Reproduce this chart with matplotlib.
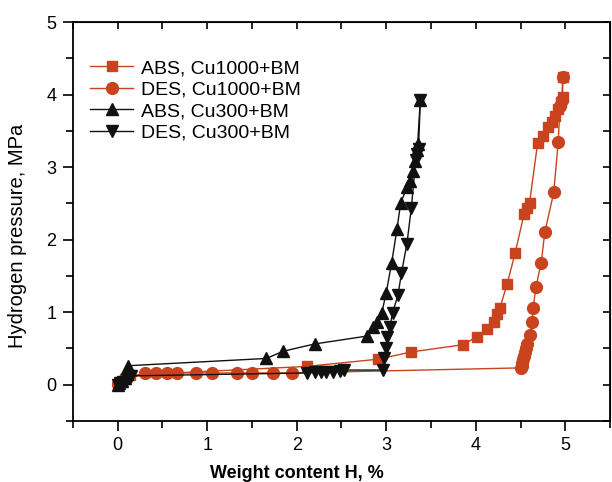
import numpy as np
import matplotlib.pyplot as plt
from matplotlib.ticker import MultipleLocator, NullFormatter

plt.rcParams['font.family'] = ['Liberation Sans', 'DejaVu Sans']

# ABS, Cu1000+BM (squares)
abs1000_x = [0.0, 0.04, 0.08, 0.14, 2.11, 2.91, 3.28, 3.86, 4.01, 4.12, 4.2, 4.24, 4.27, 4.35, 4.44,
             4.54, 4.57, 4.6, 4.69, 4.75, 4.81, 4.85, 4.88, 4.92, 4.95, 4.97, 4.97]
abs1000_y = [0.0, 0.04, 0.08, 0.13, 0.25, 0.35, 0.45, 0.55, 0.66, 0.77, 0.86, 0.98, 1.06, 1.39, 1.82,
             2.36, 2.43, 2.51, 3.33, 3.43, 3.55, 3.62, 3.7, 3.8, 3.9, 3.97, 4.24]

# DES, Cu1000+BM (circles)
des1000_x = [4.97, 4.96, 4.94, 4.92, 4.87, 4.77, 4.73, 4.67, 4.64, 4.63, 4.6, 4.57, 4.56, 4.55,
             4.54, 4.53, 4.52, 4.51, 4.5, 1.95, 1.73, 1.5, 1.33, 1.05, 0.87, 0.66, 0.55, 0.43,
             0.31, 0.0]
des1000_y = [4.24, 3.93, 3.85, 3.35, 2.65, 2.1, 1.68, 1.34, 1.06, 0.86, 0.69, 0.56, 0.5, 0.45,
             0.4, 0.35, 0.3, 0.26, 0.23, 0.16, 0.16, 0.16, 0.16, 0.16, 0.16, 0.16, 0.16, 0.16,
             0.16, 0.01]

# ABS, Cu300+BM (up triangles)
abs300_x = [0.0, 0.02, 0.05, 0.08, 0.1, 0.12, 1.66, 1.85, 2.2, 2.79, 2.85, 2.9, 2.95, 3.0, 3.06,
            3.12, 3.16, 3.23, 3.26, 3.3, 3.32, 3.34, 3.35, 3.38]
abs300_y = [0.0, 0.02, 0.05, 0.09, 0.14, 0.26, 0.36, 0.46, 0.56, 0.67, 0.79, 0.86, 0.99, 1.27, 1.68,
            2.15, 2.5, 2.72, 2.81, 2.95, 3.09, 3.23, 3.32, 3.92]

# DES, Cu300+BM (down triangles)
des300_x = [3.38, 3.36, 3.34, 3.33, 3.28, 3.23, 3.17, 3.13, 3.07, 3.04, 3.01, 3.0, 2.98, 2.96,
            2.53, 2.48, 2.4, 2.33, 2.27, 2.2, 2.12, 0.15, 0.1, 0.06, 0.03, 0.0]
des300_y = [3.92, 3.25, 3.18, 3.1, 2.44, 1.94, 1.54, 1.23, 0.99, 0.79, 0.65, 0.51, 0.37, 0.2,
            0.2, 0.19, 0.18, 0.18, 0.17, 0.17, 0.16, 0.12, 0.08, 0.04, 0.02, 0.0]

red = '#C9431F'
blk = '#111111'

fig = plt.figure(figsize=(6.12, 4.82), dpi=100)
ax = fig.add_axes([0.119, 0.127, 0.878, 0.827])

ax.plot(abs1000_x, abs1000_y, color=red, marker='s', ms=7.5, lw=1, label='ABS, Cu1000+BM')
ax.plot(des1000_x, des1000_y, color=red, marker='o', ms=8.5, lw=1, label='DES, Cu1000+BM')
ax.plot(abs300_x, abs300_y, color=blk, marker='^', ms=8.5, lw=1, label='ABS, Cu300+BM')
ax.plot(des300_x, des300_y, color=blk, marker='v', ms=8.5, lw=1, label='DES, Cu300+BM')

ax.set_xlim(-0.5, 5.5)
ax.set_ylim(-0.5, 5)
ax.xaxis.set_major_locator(MultipleLocator(1))
ax.xaxis.set_minor_locator(MultipleLocator(0.5))
ax.yaxis.set_major_locator(MultipleLocator(1))
ax.yaxis.set_minor_locator(MultipleLocator(0.5))
ax.tick_params(which='major', direction='out', length=7, width=1.2, labelsize=13, pad=5)
ax.tick_params(which='minor', direction='out', length=5, width=1.2)
for s in ax.spines.values():
    s.set_linewidth(1.3)

# inward ticks on top and right, no labels
secx = ax.secondary_xaxis('top')
secx.xaxis.set_major_locator(MultipleLocator(0.5))
secx.xaxis.set_major_formatter(NullFormatter())
secx.tick_params(direction='in', length=5, width=1.2)
secy = ax.secondary_yaxis('right')
secy.yaxis.set_major_locator(MultipleLocator(0.5))
secy.yaxis.set_major_formatter(NullFormatter())
secy.tick_params(direction='in', length=5, width=1.2)

ax.set_xlabel('Weight content H, %', fontsize=13, fontweight='bold')
ax.xaxis.set_label_coords(0.417, -0.11)
ax.set_ylabel('Hydrogen pressure, MPa', fontsize=14.5)
ax.yaxis.set_label_coords(-0.085, 0.464)

ax.legend(loc='upper left', bbox_to_anchor=(0.0, 0.95), frameon=False, fontsize=14,
          handlelength=2.2, labelspacing=0.2, handletextpad=0.4)

fig.savefig('out.png', dpi=100)
